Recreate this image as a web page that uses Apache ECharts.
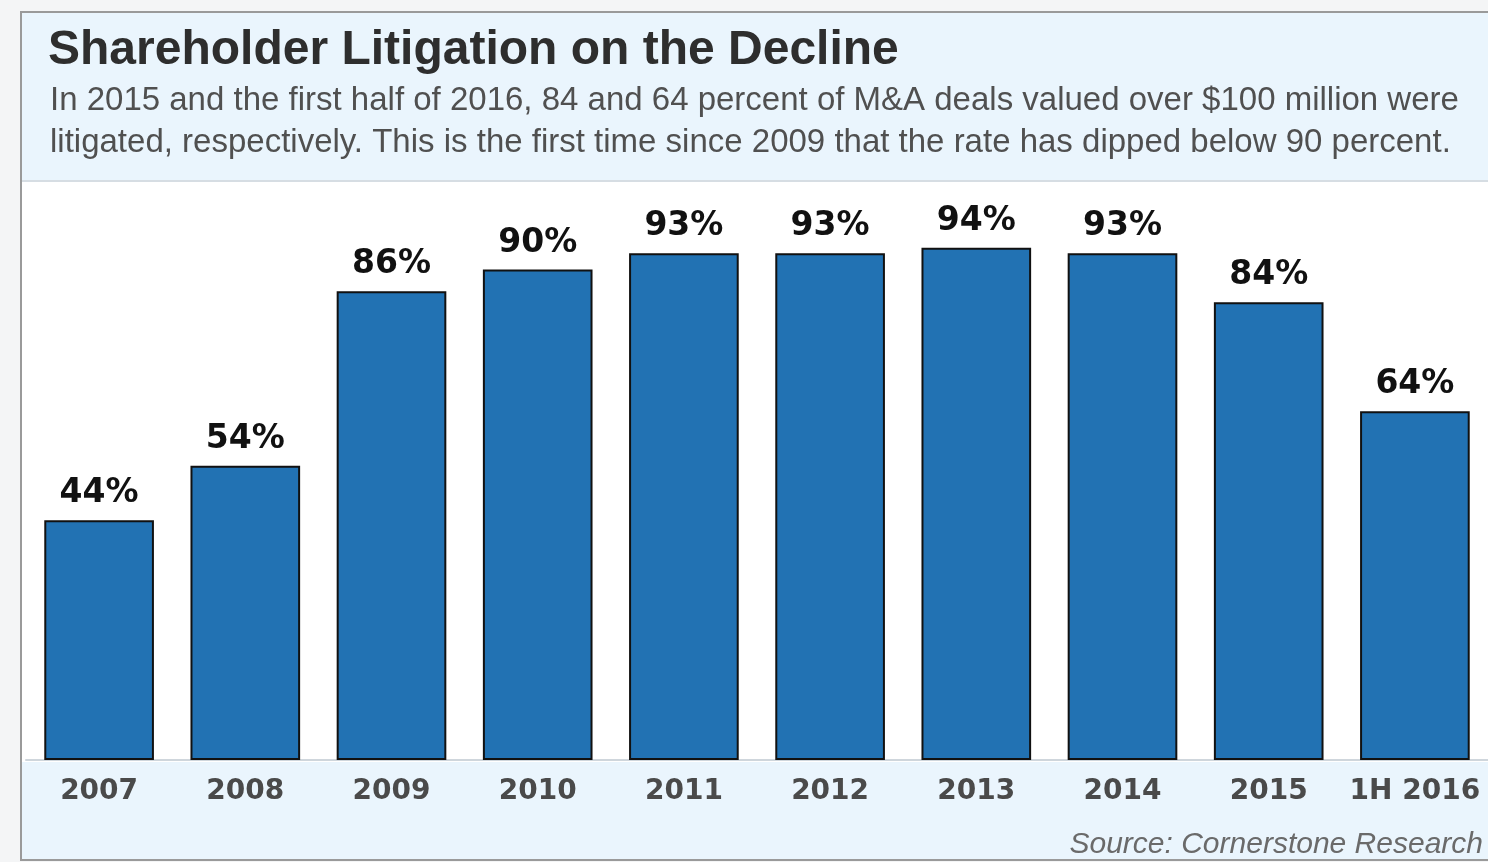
<!DOCTYPE html>
<html>
<head>
<meta charset="utf-8">
<script src="https://cdn.jsdelivr.net/npm/echarts@6/dist/echarts.min.js"></script>
<style>
html,body{margin:0;padding:0;background:#fff;}
#c{width:1488px;height:862px;}
</style>
</head>
<body>
<div id="c"></div>
<script>
const categories = ['2007','2008','2009','2010','2011','2012','2013','2014','2015','1H 2016'];
const litigatedPct = [44, 54, 86, 90, 93, 93, 94, 93, 84, 64];
const titleText = 'Shareholder Litigation on the Decline';
const subtitleText = 'In 2015 and the first half of 2016, 84 and 64 percent of M&A deals valued over $100 million were\nlitigated, respectively. This is the first time since 2009 that the rate has dipped below 90 percent.';
const sourceText = 'Source: Cornerstone Research';

const chart = echarts.init(document.getElementById('c'), null, {renderer:'canvas'});
chart.setOption({
  backgroundColor: '#ffffff',
  animation: false,
  graphic: [
    {type:'rect', z:-10, shape:{x:0,y:0,width:1488,height:862}, style:{fill:'#f4f5f6'}},
    {type:'rect', z:-9, shape:{x:21,y:12,width:1470,height:848}, style:{fill:'#ffffff', stroke:'#9a9a9a', lineWidth:2}},
    {type:'rect', z:-8, shape:{x:22,y:13,width:1468,height:167}, style:{fill:'#eaf5fd'}},
    {type:'line', z:-8, shape:{x1:22,y1:181,x2:1488,y2:181}, style:{stroke:'#d6dde3', lineWidth:2}},
    {type:'rect', z:-8, shape:{x:22,y:762,width:1468,height:97}, style:{fill:'#eaf5fd'}}
  ],
  title: [
    {text: titleText, left: 48, top: 27, padding: 0,
     textStyle:{fontFamily:'Liberation Sans, Arial, sans-serif', fontWeight:'bold', fontSize:48, color:'#2e2e2e'}},
    {text: subtitleText, left: 50, top: 80, padding: 0,
     textStyle:{fontFamily:'Liberation Sans, Arial, sans-serif', fontWeight:'normal', fontSize:33, color:'#505050', lineHeight:42}},
    {text: sourceText, right: 5, top: 830, padding: 0,
     textStyle:{fontFamily:'Liberation Sans, Arial, sans-serif', fontStyle:'italic', fontWeight:'normal', fontSize:30, color:'#6a6a6a'}}
  ],
  grid: {left: 26, width: 1464, top: 215, height: 545, containLabel:false},
  xAxis: {
    type:'category', data: categories,
    axisLine:{show:true, lineStyle:{color:'#cfd6dc', width:2}},
    axisTick:{show:false},
    axisLabel:{interval:0, margin:18, fontFamily:'DejaVu Sans, sans-serif', fontWeight:'bold', fontSize:28, color:'#4a4a4a'}
  },
  yAxis: {type:'value', min:0, max:100, show:false, splitLine:{show:false}},
  series: [{
    type:'bar', data: litigatedPct, barCategoryGap:'25%',
    itemStyle:{color:'#2272b3', borderColor:'#111', borderWidth:2},
    label:{show:true, position:'top', distance:10, formatter:'{c}%',
      fontFamily:'DejaVu Sans, sans-serif', fontWeight:'bold', fontSize:33, color:'#111'}
  }]
});
</script>
</body>
</html>
